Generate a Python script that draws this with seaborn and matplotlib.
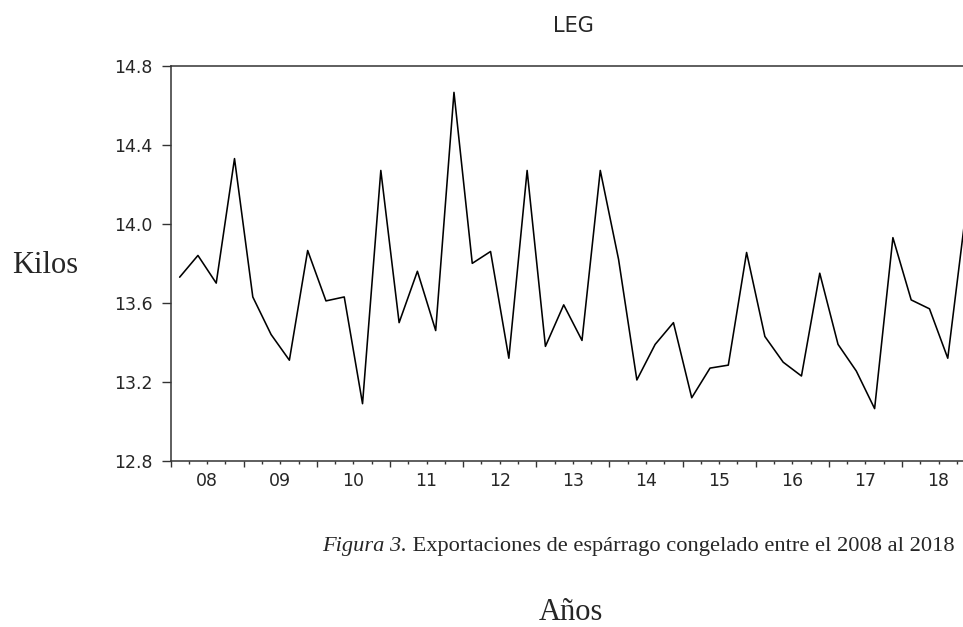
import pandas as pd
import matplotlib
matplotlib.use("Agg")
import matplotlib.pyplot as plt
from matplotlib.ticker import FixedLocator, FuncFormatter
import seaborn as sns

# quarterly frozen asparagus exports (log kilos), 2008Q1 - 2018Q4
quarters = pd.period_range("2008Q1", "2018Q4", freq="Q")
leg = [13.73, 13.84, 13.70, 14.33, 13.63, 13.44, 13.31, 13.865,
       13.61, 13.63, 13.09, 14.27, 13.50, 13.76, 13.46, 14.665,
       13.80, 13.86, 13.32, 14.27, 13.38, 13.59, 13.41, 14.27,
       13.82, 13.21, 13.39, 13.50, 13.12, 13.27, 13.285, 13.855,
       13.43, 13.30, 13.23, 13.75, 13.39, 13.255, 13.065, 13.93,
       13.615, 13.57, 13.32, 14.07]
yticks = [12.8, 13.2, 13.6, 14.0, 14.4, 14.8]

df = pd.DataFrame({
    "t": [p.year + (p.quarter - 0.5) / 4 for p in quarters],
    "LEG": leg,
})

sns.set_style("ticks")
plt.rcParams["font.family"] = ["DejaVu Sans"]

W, H = 963, 627
fig = plt.figure(figsize=(W / 100, H / 100), dpi=100)
# axes runs past the right edge, like the cropped original
ax = fig.add_axes([170.5 / W, 1 - 461 / H, 804.7 / W, 395.3 / H])

sns.lineplot(data=df, x="t", y="LEG", color="black", linewidth=1.15, ax=ax)

ax.set_xlim(2008, 2019)
ax.set_ylim(12.8, 14.8)
ax.set_yticks(yticks)
ax.yaxis.set_major_formatter(FuncFormatter(lambda v, _: f"{v:.1f}"))

years = list(range(2008, 2020))
ax.xaxis.set_major_locator(FixedLocator(years))
ax.xaxis.set_major_formatter(FuncFormatter(lambda v, _: ""))
minor = [y + q / 4 for y in years[:-1] for q in (1, 2, 3)]
ax.xaxis.set_minor_locator(FixedLocator(minor))
ax.xaxis.set_minor_formatter(
    FuncFormatter(lambda v, _: f"{int(v) % 100:02d}" if abs(v % 1 - 0.5) < 1e-6 else ""))

ax.tick_params(axis="y", direction="out", length=6.5, width=1.0, pad=6.5,
               labelsize=12.5, color="#333333")
ax.tick_params(axis="x", which="major", direction="out", length=4.3, width=1.0,
               color="#333333")
ax.tick_params(axis="x", which="minor", direction="out", length=2.2, width=1.0,
               pad=6.0, labelsize=12.5, color="#333333")
for s in ax.spines.values():
    s.set_linewidth(1.1)
    s.set_color("#333333")

ax.set_xlabel("")
ax.set_ylabel("")

fig.text(573 / W, 1 - 31.7 / H, "LEG", ha="center", va="baseline", fontsize=15)

serif = ["Liberation Serif", "DejaVu Serif"]
fig.text(11.7 / W, 1 - 273.3 / H, "Kilos", ha="left", va="baseline",
         fontsize=22, family=serif)

t2 = fig.text(955 / W, 1 - 550.7 / H,
              " Exportaciones de espárrago congelado entre el 2008 al 2018",
              ha="right", va="baseline", fontsize=16.15, family=serif)
ax.annotate("Figura 3.", xy=(0, 0), xycoords=t2, ha="right", va="bottom",
            fontsize=16.15, family=serif, style="italic", annotation_clip=False)

fig.text(570.5 / W, 1 - 620 / H, "Años", ha="center", va="baseline",
         fontsize=22, family=serif)

fig.savefig("out.png", dpi=100)
